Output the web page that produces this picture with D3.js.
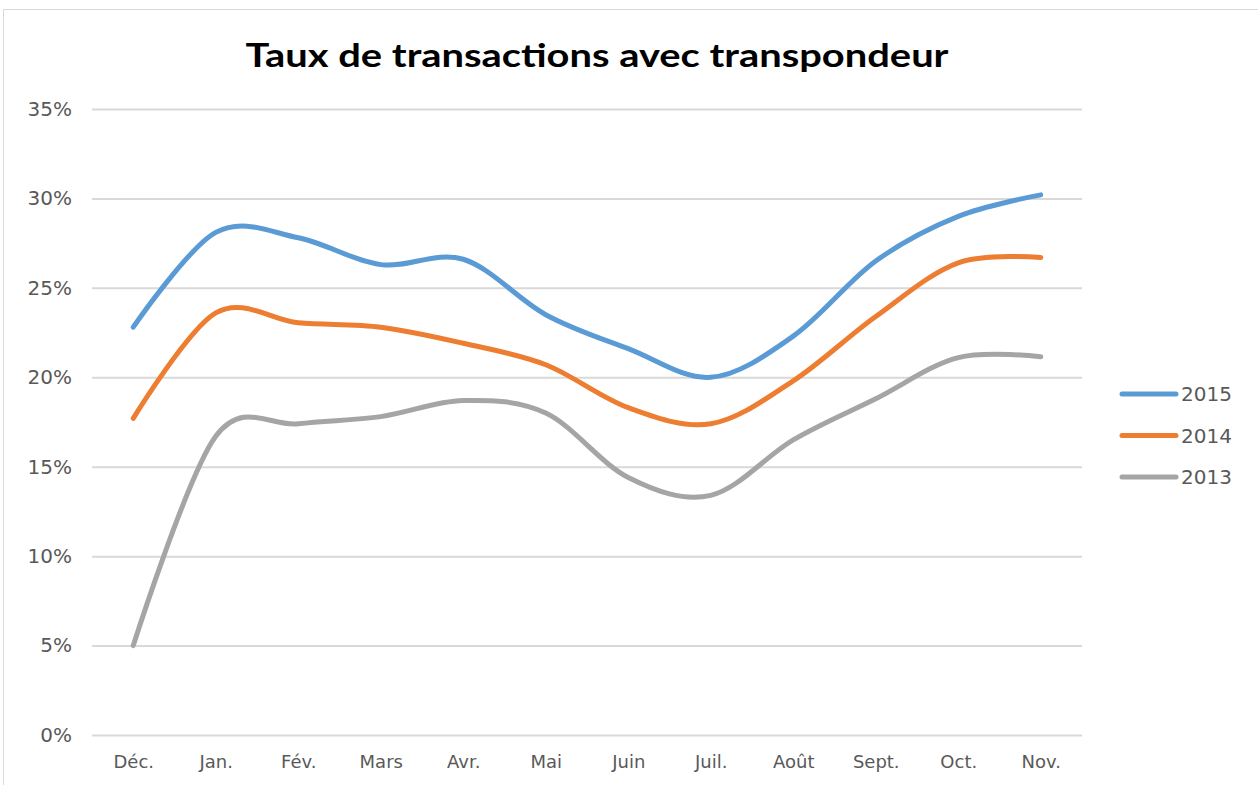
<!DOCTYPE html>
<html>
<head>
<meta charset="utf-8">
<script src="https://cdn.jsdelivr.net/npm/d3@7/dist/d3.min.js"></script>
<style>
    body { margin: 0; background: #fff; }
    #vis { width: 1258px; height: 785px; display: block; }
    .tick text { font-family: "DejaVu Sans", sans-serif; fill: #595959; }
</style>
</head>
<body>
<svg id="vis"></svg>
<script>
// chart data
const months = ["Déc.", "Jan.", "Fév.", "Mars", "Avr.", "Mai", "Juin", "Juil.", "Août", "Sept.", "Oct.", "Nov."];
const v2015 = [22.8, 28.1, 27.8, 26.3, 26.6, 23.5, 21.6, 20.0, 22.3, 26.5, 29.0, 30.2];
const v2014 = [17.7, 23.6, 23.05, 22.8, 21.9, 20.7, 18.3, 17.4, 19.8, 23.4, 26.4, 26.7];
const v2013 = [5.0, 16.7, 17.4, 17.8, 18.7, 18.0, 14.4, 13.4, 16.5, 18.8, 21.1, 21.15];
const yTicks = [0, 5, 10, 15, 20, 25, 30, 35];

const series = [
    { name: "2015", values: v2015, color: "#5B9BD5" },
    { name: "2014", values: v2014, color: "#ED7D31" },
    { name: "2013", values: v2013, color: "#A5A5A5" }
];

const svg = d3.select('#vis');
const WIDTH = 1258, HEIGHT = 785;
const margin = { left: 92, right: 176, top: 109, bottom: 50 };

// chart border (left + top only visible)
svg.append("path")
    .attr("d", "M3.5," + HEIGHT + "V9.5H" + WIDTH)
    .attr("fill", "none")
    .attr("stroke", "#d9d9d9")
    .attr("stroke-width", 1);

const x = d3.scalePoint()
    .domain(months)
    .range([margin.left, WIDTH - margin.right])
    .padding(0.5);

const y = d3.scaleLinear()
    .domain([0, 35])
    .range([HEIGHT - margin.bottom, margin.top]);

// gridlines + y labels
const yAxis = svg.append("g")
    .attr("transform", "translate(" + margin.left + ",0)")
    .call(d3.axisLeft(y)
        .tickValues(yTicks)
        .tickSize(-(WIDTH - margin.left - margin.right))
        .tickPadding(20)
        .tickFormat(function (d) { return d + "%"; }));
yAxis.select(".domain").remove();
yAxis.selectAll(".tick line").attr("stroke", "#d9d9d9").attr("stroke-width", 2);
yAxis.selectAll(".tick text").attr("font-size", 20);

// x labels
const xAxis = svg.append("g")
    .attr("transform", "translate(0," + (HEIGHT - margin.bottom) + ")")
    .call(d3.axisBottom(x).tickSize(0).tickPadding(20));
xAxis.select(".domain").remove();
xAxis.selectAll(".tick text").attr("font-size", 18);

// lines
const line = d3.line()
    .x(function (d, i) { return x(months[i]); })
    .y(function (d) { return y(d); })
    .curve(d3.curveCatmullRom.alpha(0));

svg.selectAll(".serie")
    .data(series)
    .enter().append("path")
    .attr("class", "serie")
    .attr("d", function (d) { return line(d.values); })
    .attr("fill", "none")
    .attr("stroke", function (d) { return d.color; })
    .attr("stroke-width", 5)
    .attr("stroke-linecap", "round")
    .attr("stroke-linejoin", "round");

// title
svg.append("text")
    .attr("x", 597)
    .attr("y", 67)
    .attr("text-anchor", "middle")
    .attr("font-family", "Lato, sans-serif")
    .attr("font-weight", "bold")
    .attr("font-size", 33)
    .attr("textLength", 703)
    .attr("lengthAdjust", "spacingAndGlyphs")
    .attr("fill", "#000")
    .text("Taux de transactions avec transpondeur");

// legend
const legend = svg.selectAll(".legend")
    .data(series)
    .enter().append("g")
    .attr("class", "legend")
    .attr("transform", function (d, i) { return "translate(1122," + (394 + i * 41.5) + ")"; });

legend.append("line")
    .attr("x1", 0).attr("x2", 54)
    .attr("stroke", function (d) { return d.color; })
    .attr("stroke-width", 5)
    .attr("stroke-linecap", "round");

legend.append("text")
    .attr("x", 59)
    .attr("dy", "0.35em")
    .attr("font-family", "DejaVu Sans, sans-serif")
    .attr("font-size", 20)
    .attr("fill", "#595959")
    .text(function (d) { return d.name; });
</script>
</body>
</html>
